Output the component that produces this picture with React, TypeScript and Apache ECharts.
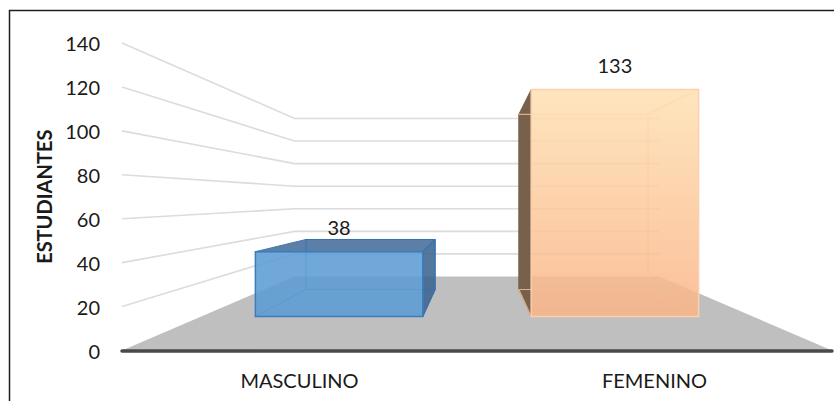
import React, { useEffect, useRef } from "react";
import * as echarts from "echarts";

const categories = ["MASCULINO", "FEMENINO"];
const values = [38, 133];
const yTicks = [20, 40, 60, 80, 100, 120, 140];
const yAxisTitle = "ESTUDIANTES";

const FONT = "Lato, 'Noto Sans', sans-serif";
const SHRINK = 0.486; // how much the back wall shrinks relative to the front plane
const FLOOR_RISE = 74; // px the floor climbs from front to back
const BAR_NEAR = 0.459; // depth of a bar's front face
const BAR_FAR = 0.824; // depth of a bar's back face
const BAR_WIDTH = 0.607; // share of the category band

const palette = [
  {
    front: "rgba(91,155,213,0.87)",
    edge: "#3a7dbd",
    sideEdge: "#3f78b0",
    inner: "rgba(46,110,175,0.6)",
    side: "rgba(60,100,145,0.88)",
    top: "rgba(62,105,150,0.85)",
  },
  {
    front: new echarts.graphic.LinearGradient(0, 0, 0, 1, [
      { offset: 0, color: "rgba(254,224,178,0.85)" },
      { offset: 1, color: "rgba(250,180,135,0.85)" },
    ]),
    edge: "#fbd0ae",
    sideEdge: "#77604c",
    inner: "rgba(250,195,150,0.8)",
    side: "#77604c",
    top: "#fde2b9",
  },
];

// Projects a point given on the front plane back to depth t (0 front, 1 back wall).
function project(api: any, xValue: number, offset: number, value: number, t: number) {
  const origin = api.coord([0, 0]);
  const right = api.coord([1, 0]);
  const band = right[0] - origin[0];
  const centre = (origin[0] + right[0]) / 2;
  const p = api.coord([xValue, value]);
  const k = 1 - SHRINK * t;
  return [
    centre + (p[0] + offset * band - centre) * k,
    origin[1] - FLOOR_RISE * t - (origin[1] - p[1]) * k,
  ];
}

function renderFloor(_: any, api: any) {
  const a = project(api, 0, -0.5, 0, 0);
  const b = project(api, 0, -0.5, 0, 1);
  const c = project(api, 1, 0.5, 0, 1);
  const d = project(api, 1, 0.5, 0, 0);
  return {
    type: "polygon",
    shape: { points: [a, b, c, d] },
    style: { fill: "#bfbfbf" },
  };
}

function renderGrid(_: any, api: any) {
  const v = api.value(0);
  const a = project(api, 0, -0.5, v, 0);
  const b = project(api, 0, -0.5, v, 1);
  const c = project(api, 1, 0.5, v, 1);
  return {
    type: "polyline",
    shape: { points: [a, b, c] },
    style: { stroke: "#dcdcdc", lineWidth: 1.6, fill: "none" },
  };
}

function renderBar(params: any, api: any) {
  const i = api.value(0);
  const v = api.value(1);
  const c = palette[params.dataIndex];
  const w = BAR_WIDTH / 2;
  const fBL = project(api, i, -w, 0, BAR_NEAR);
  const fBR = project(api, i, w, 0, BAR_NEAR);
  const fTL = project(api, i, -w, v, BAR_NEAR);
  const fTR = project(api, i, w, v, BAR_NEAR);
  const bBL = project(api, i, -w, 0, BAR_FAR);
  const bBR = project(api, i, w, 0, BAR_FAR);
  const bTL = project(api, i, -w, v, BAR_FAR);
  const bTR = project(api, i, w, v, BAR_FAR);

  const poly = (points: number[][], fill: string) => ({
    type: "polygon",
    shape: { points },
    style: { fill, stroke: c.sideEdge, lineWidth: 1 },
  });
  const line = (a: number[], b: number[]) => ({
    type: "line",
    shape: { x1: a[0], y1: a[1], x2: b[0], y2: b[1] },
    style: { stroke: c.inner, lineWidth: 1.2 },
  });

  const children: any[] = [];
  if (bTL[1] < fTL[1]) children.push(poly([fTL, bTL, bTR, fTR], c.top));
  if (bBR[0] > fBR[0]) children.push(poly([fTR, bTR, bBR, fBR], c.side));
  if (bBL[0] < fBL[0]) children.push(poly([fTL, bTL, bBL, fBL], c.side));
  children.push(
    line(bBL, bBR),
    line(fBL, bBL),
    line(fBR, bBR),
    line(bTR, bBR),
    line(bTL, bTR),
    line(fTR, bTR)
  );
  if (bBL[0] >= fBL[0]) children.push(line(bTL, bBL));
  children.push(
    {
      type: "rect",
      shape: { x: fTL[0], y: fTL[1], width: fTR[0] - fTL[0], height: fBL[1] - fTL[1] },
      style: { fill: c.front, stroke: c.edge, lineWidth: 1.5 },
    },
    {
      type: "text",
      style: {
        x: (fTL[0] + fTR[0]) / 2,
        y: fTL[1] - 25,
        text: String(v),
        align: "center",
        verticalAlign: "middle",
        font: `20px ${FONT}`,
        fill: "#1a1a1a",
      },
    }
  );
  return { type: "group", children };
}

export default function App() {
  const ref = useRef<HTMLDivElement>(null);
  useEffect(() => {
    const chart = echarts.init(ref.current!, undefined, { renderer: "svg" });
    chart.setOption({
      animation: false,
      grid: { left: 122, top: 43, width: 710, height: 307.5 },
      graphic: [
        {
          type: "polyline",
          silent: true,
          shape: { points: [[834, 10.5], [9.5, 10.5], [9.5, 401]] },
          style: { stroke: "#1f1f1f", lineWidth: 1.5, fill: "none" },
        },
      ],
      xAxis: {
        type: "category",
        data: categories,
        z: 5,
        axisTick: { show: false },
        axisLine: { show: true, lineStyle: { color: "#4a4a4a", width: 3.5 } },
        axisLabel: { color: "#1a1a1a", fontFamily: FONT, fontSize: 20, margin: 19 },
      },
      yAxis: {
        type: "value",
        min: 0,
        max: 140,
        interval: 20,
        name: yAxisTitle,
        nameLocation: "middle",
        nameGap: 68,
        nameTextStyle: { color: "#1a1a1a", fontFamily: FONT, fontSize: 20, fontWeight: "bold" },
        axisLine: { show: false },
        axisTick: { show: false },
        splitLine: { show: false },
        axisLabel: { color: "#1a1a1a", fontFamily: FONT, fontSize: 20, margin: 22 },
      },
      series: [
        {
          type: "custom",
          z: 1,
          silent: true,
          renderItem: renderFloor,
          data: [[0]],
          encode: { x: [], y: 0 },
        },
        {
          type: "custom",
          z: 2,
          silent: true,
          renderItem: renderGrid,
          data: yTicks.map((t) => [t]),
          encode: { x: [], y: 0 },
        },
        {
          type: "custom",
          z: 3,
          silent: true,
          renderItem: renderBar,
          data: values.map((v, i) => [i, v]),
          encode: { x: 0, y: 1 },
        },
      ],
    });
    return () => chart.dispose();
  }, []);
  return (
    <div
      ref={ref}
      style={{ position: "absolute", left: 0, top: 0, width: 834, height: 401, background: "#fff" }}
    />
  );
}
